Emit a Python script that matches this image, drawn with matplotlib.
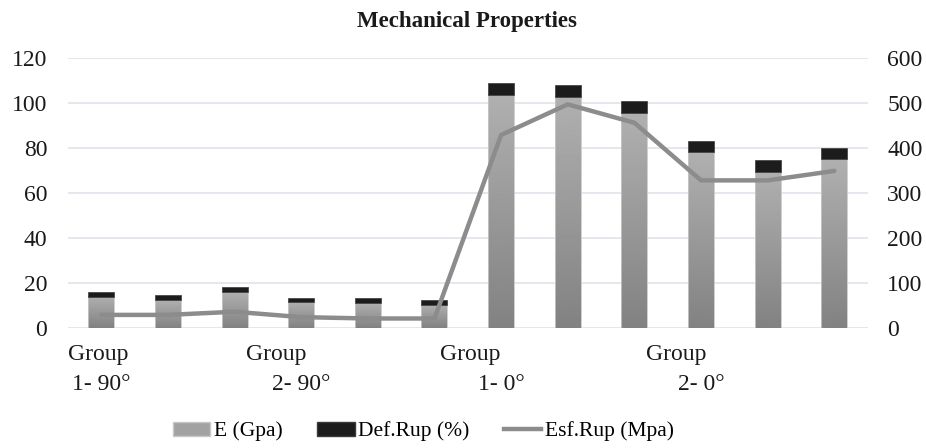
import numpy as np
import matplotlib
matplotlib.use("Agg")
import matplotlib.pyplot as plt
from matplotlib.patches import Rectangle
from matplotlib.lines import Line2D

# Specimen values (12 specimens, 3 per group)
group_names = ["1- 90°", "2- 90°", "1- 0°", "2- 0°"]
group_word = "Group"
modulus_gpa = [13.9, 12.4, 16.0, 11.7, 11.0, 10.4,
               103.6, 102.8, 95.7, 78.1, 69.5, 75.1]
strain_pct = [2.0, 2.1, 2.1, 1.5, 2.2, 2.0,
              5.1, 5.1, 5.2, 4.9, 5.0, 5.0]
strength_mpa = [29, 29, 36, 24, 21, 21,
                429, 497, 456, 328, 328, 349]
left_ticks = [0, 20, 40, 60, 80, 100, 120]
right_ticks = [0, 100, 200, 300, 400, 500, 600]

plt.rcParams["font.family"] = ["Liberation Serif", "DejaVu Serif"]
FS = 17

fig = plt.figure(figsize=(9.26, 4.48), dpi=100)
ax = fig.add_axes([0.0734, 0.268, 0.8636, 0.6025])
ax2 = ax.twinx()

n = len(modulus_gpa)
x = np.arange(n)
width = 0.39

# gradient fill for the modulus bars: light at top, darker at base
grad = np.linspace(0.69, 0.51, 256).reshape(-1, 1)
for xi, e in zip(x, modulus_gpa):
    ax.imshow(grad, cmap="gray", vmin=0, vmax=1, aspect="auto",
              extent=[xi - width / 2, xi + width / 2, 0, e],
              origin="upper", zorder=2, interpolation="bilinear")
    ax.add_patch(Rectangle((xi - width / 2, 0), width, e, fill=False,
                           edgecolor="#c8c8c8", linewidth=0.6, zorder=3))
ax.bar(x, strain_pct, width, bottom=modulus_gpa, color="#1c1c1c",
       edgecolor="#3a3a3a", linewidth=0.5, zorder=3)

ax2.plot(x, strength_mpa, color="#8c8c8c", linewidth=3.2,
         solid_capstyle="round", solid_joinstyle="round", zorder=4)

ax.set_xlim(-0.5, n - 0.5)
ax.set_ylim(0, 120)
ax2.set_ylim(0, 600)
ax.set_yticks(left_ticks)
ax2.set_yticks(right_ticks)
ax.grid(axis="y", color="#dde1ea", linewidth=1.1, zorder=0)
ax.set_axisbelow(True)

for a in (ax, ax2):
    for s in a.spines.values():
        s.set_visible(False)
    a.tick_params(length=0, labelsize=FS, colors="#1a1a1a")
ax.tick_params(axis="y", pad=15)
ax2.tick_params(axis="y", pad=14)

# category labels: group number under the first specimen of each group
ax.set_xticks(x[::3])
ax.set_xticklabels(group_names, fontsize=FS)
ax.tick_params(axis="x", pad=33)
word_offsets = [-0.05, -0.37, -0.47, -0.37]
for gx, off in zip(x[::3], word_offsets):
    ax.text(gx + off, -0.1, group_word, transform=ax.get_xaxis_transform(),
            ha="center", va="center", fontsize=FS, color="#1a1a1a")

fig.text(0.504, 0.952, "Mechanical Properties", ha="center", va="center",
         fontsize=16.5, fontweight="bold", color="#1a1a1a")

handles = [Rectangle((0, 0), 1, 1, facecolor="#a2a2a2", edgecolor="#c8c8c8"),
           Rectangle((0, 0), 1, 1, facecolor="#1c1c1c", edgecolor="#3a3a3a"),
           Line2D([], [], color="#8c8c8c", linewidth=3.2)]
fig.legend(handles, ["E (Gpa)", "Def.Rup (%)", "Esf.Rup (Mpa)"],
           loc="center", bbox_to_anchor=(0.457, 0.037), ncol=3, frameon=False,
           fontsize=15.5, handlelength=1.75, handleheight=0.6, handletextpad=0.15,
           columnspacing=1.6)

fig.savefig("out.png", dpi=100)
